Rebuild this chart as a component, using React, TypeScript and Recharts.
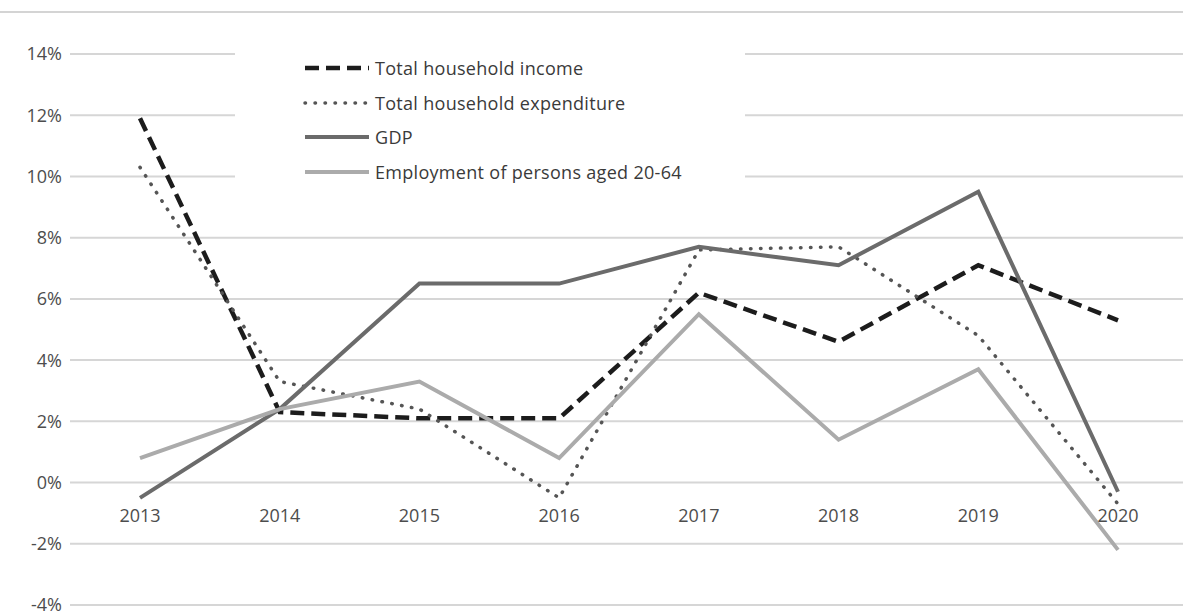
import { LineChart, Line, XAxis, YAxis, CartesianGrid } from 'recharts';

const years = ['2013', '2014', '2015', '2016', '2017', '2018', '2019', '2020'];
const householdIncome = [11.9, 2.3, 2.1, 2.1, 6.2, 4.6, 7.1, 5.3];
const householdExpenditure = [10.3, 3.3, 2.4, -0.5, 7.6, 7.7, 4.8, -0.7];
const gdp = [-0.5, 2.4, 6.5, 6.5, 7.7, 7.1, 9.5, -0.3];
const employment = [0.8, 2.4, 3.3, 0.8, 5.5, 1.4, 3.7, -2.2];
const yTicks = [-4, -2, 0, 2, 4, 6, 8, 10, 12, 14];

const data = years.map((year, i) => ({
    year,
    income: householdIncome[i],
    expenditure: householdExpenditure[i],
    gdp: gdp[i],
    employment: employment[i],
}));

const FONT = '"Open Sans", "Noto Sans", sans-serif';

const series = [
    { key: 'income', name: 'Total household income', color: '#1c1c1c', width: 4.5, dash: '14 7', cap: 'butt' as const },
    { key: 'expenditure', name: 'Total household expenditure', color: '#555', width: 3.5, dash: '0.5 9.5', cap: 'round' as const },
    { key: 'gdp', name: 'GDP', color: '#6b6b6b', width: 4, dash: undefined, cap: 'butt' as const },
    { key: 'employment', name: 'Employment of persons aged 20-64', color: '#ababab', width: 4, dash: undefined, cap: 'butt' as const },
];

function YearTick({ x, y, payload }: any) {
    return (
        <text x={x} y={y - 85} textAnchor="middle" fill="#4d4d4d" fontSize={18} fontFamily={FONT}>
            {payload.value}
        </text>
    );
}

function LegendBox() {
    return (
        <div
            style={{
                position: 'absolute',
                left: 235,
                top: 32,
                width: 510,
                height: 180,
                background: '#fff',
                fontFamily: FONT,
                fontSize: 18,
                letterSpacing: 0.3,
                color: '#3a3a3a',
            }}
        >
            {series.map((s, i) => (
                <div key={s.key} style={{ position: 'absolute', left: 68, top: 24 + i * 34.5, height: 24, display: 'flex', alignItems: 'center' }}>
                    <svg width={68} height={12} style={{ display: 'block' }}>
                        <line
                            x1={2}
                            y1={6}
                            x2={66}
                            y2={6}
                            stroke={s.color}
                            strokeWidth={s.width}
                            strokeDasharray={s.dash}
                            strokeLinecap={s.cap}
                        />
                    </svg>
                    <span style={{ marginLeft: 4, whiteSpace: 'nowrap' }}>{s.name}</span>
                </div>
            ))}
        </div>
    );
}

export default function App() {
    return (
        <div style={{ position: 'absolute', left: 0, top: 0, width: 1183, height: 616, overflow: 'hidden', background: '#fff' }}>
            <div style={{ position: 'absolute', left: 0, top: 11, width: 1183, height: 2, background: '#d4d4d4' }} />
            <LineChart width={1190} height={616} data={data} margin={{ top: 54, right: 2, bottom: 10, left: 0 }}>
                <CartesianGrid horizontal vertical={false} stroke="#d6d6d6" strokeWidth={2} />
                <XAxis
                    dataKey="year"
                    height={1}
                    axisLine={false}
                    tickLine={false}
                    tickSize={0}
                    interval={0}
                    padding={{ left: 70, right: 70 }}
                    tick={<YearTick />}
                />
                <YAxis
                    width={70}
                    domain={[-4, 14]}
                    ticks={yTicks}
                    interval={0}
                    axisLine={false}
                    tickLine={false}
                    tickSize={0}
                    tickMargin={8}
                    tickFormatter={(v) => `${v}%`}
                    tick={{ fill: '#4d4d4d', fontSize: 18, fontFamily: FONT }}
                />
                {series.map((s) => (
                    <Line
                        key={s.key}
                        type="linear"
                        dataKey={s.key}
                        name={s.name}
                        stroke={s.color}
                        strokeWidth={s.width}
                        strokeDasharray={s.dash}
                        strokeLinecap={s.cap}
                        dot={false}
                        activeDot={false}
                        isAnimationActive={false}
                    />
                ))}
            </LineChart>
            <LegendBox />
        </div>
    );
}
